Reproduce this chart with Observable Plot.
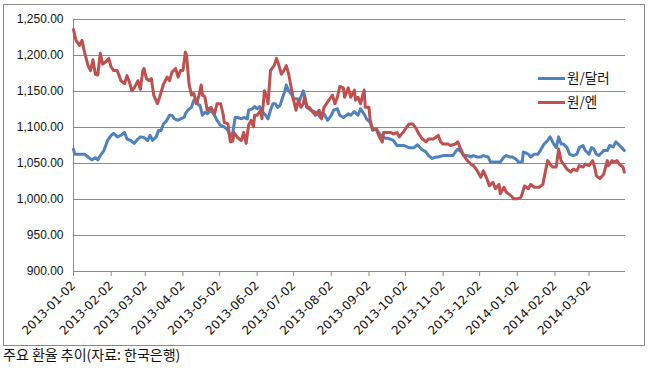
<!DOCTYPE html>
<html><head><meta charset="utf-8">
<script src="https://cdn.jsdelivr.net/npm/d3@7"></script>
<script src="https://cdn.jsdelivr.net/npm/@observablehq/plot@0.6"></script>
<style>
html,body{margin:0;padding:0;background:#fff;}
#wrap{position:relative;width:648px;height:370px;overflow:hidden;}
#chart{position:absolute;left:0;top:0;}
#border{position:absolute;left:3px;top:4px;width:642px;height:342px;box-sizing:border-box;border:1px solid #8c8c8c;pointer-events:none;}
.lg{position:absolute;font-family:"Noto Sans CJK KR",sans-serif;font-size:13.5px;line-height:1;color:#111;}
.sw{position:absolute;height:3px;}
#cap{position:absolute;left:3px;top:347px;font-family:"Noto Sans CJK KR",sans-serif;font-size:14px;line-height:1;color:#111;}
</style></head>
<body><div id="wrap">
<div id="chart"></div>
<div id="border"></div>
<div class="sw" style="left:538px;top:77px;width:27px;background:#4F81BD"></div>
<div class="lg" style="left:567px;top:71px">원/달러</div>
<div class="sw" style="left:538px;top:101px;width:27px;background:#C0504D"></div>
<div class="lg" style="left:567px;top:95px">원/엔</div>
<div id="cap">주요 환율 추이(자료: 한국은행)</div>
</div>
<script>
const seriesNames = ["원/달러", "원/엔"];
const seriesColors = ["#4F81BD", "#C0504D"];
const xTickLabels = ["2013-01-02","2013-02-02","2013-03-02","2013-04-02","2013-05-02","2013-06-02","2013-07-02","2013-08-02","2013-09-02","2013-10-02","2013-11-02","2013-12-02","2014-01-02","2014-02-02","2014-03-02"];
const yTicks = [900, 950, 1000, 1050, 1100, 1150, 1200, 1250];
const xDomain = ["2013-01-02", "2014-04-01"];

const usdDates = ["2013-01-02","2013-01-03","2013-01-07","2013-01-11","2013-01-14","2013-01-17","2013-01-20","2013-01-22","2013-01-24","2013-01-27","2013-01-30","2013-02-02","2013-02-04","2013-02-07","2013-02-10","2013-02-13","2013-02-15","2013-02-18","2013-02-21","2013-02-24","2013-02-26","2013-03-01","2013-03-04","2013-03-06","2013-03-08","2013-03-11","2013-03-13","2013-03-15","2013-03-17","2013-03-19","2013-03-22","2013-03-24","2013-03-26","2013-03-29","2013-03-31","2013-04-03","2013-04-04","2013-04-06","2013-04-09","2013-04-11","2013-04-13","2013-04-15","2013-04-16","2013-04-18","2013-04-20","2013-04-22","2013-04-25","2013-04-28","2013-04-30","2013-05-03","2013-05-06","2013-05-09","2013-05-11","2013-05-13","2013-05-15","2013-05-17","2013-05-20","2013-05-22","2013-05-25","2013-05-26","2013-05-29","2013-05-31","2013-06-02","2013-06-04","2013-06-07","2013-06-09","2013-06-11","2013-06-13","2013-06-15","2013-06-17","2013-06-19","2013-06-21","2013-06-23","2013-06-25","2013-06-26","2013-06-28","2013-06-30","2013-07-02","2013-07-05","2013-07-07","2013-07-10","2013-07-11","2013-07-13","2013-07-16","2013-07-19","2013-07-22","2013-07-24","2013-07-27","2013-07-30","2013-08-02","2013-08-04","2013-08-07","2013-08-09","2013-08-12","2013-08-16","2013-08-18","2013-08-21","2013-08-24","2013-08-26","2013-08-29","2013-08-31","2013-09-03","2013-09-05","2013-09-08","2013-09-10","2013-09-13","2013-09-16","2013-09-18","2013-09-22","2013-09-25","2013-09-28","2013-10-01","2013-10-05","2013-10-09","2013-10-12","2013-10-15","2013-10-19","2013-10-21","2013-10-24","2013-10-27","2013-10-29","2013-11-02","2013-11-04","2013-11-08","2013-11-10","2013-11-12","2013-11-14","2013-11-17","2013-11-19","2013-11-22","2013-11-25","2013-11-27","2013-11-30","2013-12-03","2013-12-05","2013-12-09","2013-12-11","2013-12-14","2013-12-17","2013-12-19","2013-12-22","2013-12-24","2013-12-27","2013-12-29","2014-01-01","2014-01-03","2014-01-06","2014-01-07","2014-01-11","2014-01-13","2014-01-16","2014-01-19","2014-01-21","2014-01-24","2014-01-27","2014-01-29","2014-02-01","2014-02-03","2014-02-05","2014-02-07","2014-02-09","2014-02-12","2014-02-14","2014-02-17","2014-02-20","2014-02-22","2014-02-25","2014-02-27","2014-03-02","2014-03-04","2014-03-06","2014-03-08","2014-03-10","2014-03-13","2014-03-14","2014-03-17","2014-03-19","2014-03-22","2014-03-24","2014-03-26","2014-03-30","2014-03-31"];
const usdValues = [1070,1063,1063,1063,1059,1055,1058,1055,1061,1068,1082,1089,1092,1087,1089,1093,1084,1082,1078,1084,1087,1086,1082,1089,1082,1087,1096,1096,1105,1108,1117,1117,1112,1110,1112,1114,1119,1124,1128,1138,1138,1131,1131,1117,1121,1119,1124,1117,1110,1103,1101,1096,1087,1093,1114,1114,1112,1114,1112,1124,1126,1129,1126,1129,1121,1117,1112,1124,1133,1133,1128,1131,1142,1151,1159,1151,1147,1140,1140,1138,1151,1145,1128,1124,1122,1119,1114,1119,1110,1117,1124,1126,1117,1114,1119,1117,1122,1117,1126,1119,1112,1107,1096,1098,1093,1087,1085,1085,1082,1075,1075,1075,1072,1072,1076,1070,1066,1061,1057,1059,1059,1061,1061,1061,1061,1066,1070,1066,1061,1061,1059,1061,1059,1059,1061,1059,1052,1052,1052,1052,1059,1061,1059,1059,1056,1052,1052,1066,1063,1059,1063,1063,1068,1077,1082,1087,1077,1072,1087,1077,1077,1072,1063,1061,1063,1072,1075,1068,1063,1072,1070,1063,1061,1066,1068,1068,1075,1073,1080,1077,1070,1068];

const jpyDates = ["2013-01-02","2013-01-04","2013-01-07","2013-01-09","2013-01-11","2013-01-14","2013-01-16","2013-01-18","2013-01-20","2013-01-22","2013-01-24","2013-01-26","2013-01-29","2013-01-31","2013-02-02","2013-02-04","2013-02-07","2013-02-10","2013-02-13","2013-02-15","2013-02-17","2013-02-19","2013-02-21","2013-02-24","2013-02-26","2013-02-28","2013-03-01","2013-03-03","2013-03-05","2013-03-07","2013-03-09","2013-03-12","2013-03-14","2013-03-17","2013-03-20","2013-03-22","2013-03-24","2013-03-27","2013-03-29","2013-03-31","2013-04-02","2013-04-04","2013-04-05","2013-04-07","2013-04-09","2013-04-11","2013-04-13","2013-04-15","2013-04-17","2013-04-18","2013-04-20","2013-04-22","2013-04-25","2013-04-28","2013-04-30","2013-05-03","2013-05-05","2013-05-06","2013-05-09","2013-05-11","2013-05-13","2013-05-14","2013-05-17","2013-05-20","2013-05-22","2013-05-24","2013-05-26","2013-05-28","2013-05-30","2013-05-31","2013-06-02","2013-06-05","2013-06-06","2013-06-08","2013-06-10","2013-06-11","2013-06-13","2013-06-16","2013-06-18","2013-06-20","2013-06-22","2013-06-24","2013-06-26","2013-06-28","2013-06-30","2013-07-02","2013-07-04","2013-07-06","2013-07-08","2013-07-10","2013-07-11","2013-07-13","2013-07-15","2013-07-18","2013-07-20","2013-07-23","2013-07-25","2013-07-27","2013-07-31","2013-08-03","2013-08-05","2013-08-07","2013-08-09","2013-08-12","2013-08-13","2013-08-16","2013-08-18","2013-08-21","2013-08-22","2013-08-24","2013-08-26","2013-08-29","2013-08-30","2013-09-02","2013-09-03","2013-09-05","2013-09-08","2013-09-10","2013-09-13","2013-09-14","2013-09-17","2013-09-20","2013-09-22","2013-09-25","2013-09-27","2013-09-30","2013-10-02","2013-10-05","2013-10-08","2013-10-11","2013-10-13","2013-10-16","2013-10-19","2013-10-21","2013-10-25","2013-10-29","2013-10-31","2013-11-02","2013-11-06","2013-11-08","2013-11-12","2013-11-14","2013-11-16","2013-11-19","2013-11-22","2013-11-25","2013-11-27","2013-11-30","2013-12-03","2013-12-05","2013-12-08","2013-12-10","2013-12-13","2013-12-15","2013-12-18","2013-12-19","2013-12-22","2013-12-24","2013-12-28","2013-12-30","2014-01-02","2014-01-05","2014-01-06","2014-01-08","2014-01-11","2014-01-13","2014-01-16","2014-01-20","2014-01-23","2014-01-25","2014-01-27","2014-01-29","2014-01-31","2014-02-03","2014-02-05","2014-02-07","2014-02-09","2014-02-12","2014-02-15","2014-02-17","2014-02-20","2014-02-22","2014-02-25","2014-02-27","2014-03-02","2014-03-05","2014-03-07","2014-03-08","2014-03-11","2014-03-14","2014-03-17","2014-03-18","2014-03-21","2014-03-22","2014-03-25","2014-03-27","2014-03-30","2014-03-31"];
const jpyValues = [1236,1221,1214,1221,1205,1186,1179,1194,1174,1173,1203,1188,1192,1196,1184,1179,1179,1165,1161,1172,1163,1151,1155,1165,1153,1179,1182,1168,1165,1168,1145,1133,1143,1160,1170,1165,1177,1182,1170,1179,1179,1205,1200,1161,1145,1147,1133,1143,1159,1145,1143,1124,1128,1119,1133,1133,1119,1107,1105,1080,1081,1093,1086,1082,1093,1078,1103,1110,1101,1117,1117,1124,1112,1151,1142,1133,1179,1186,1196,1186,1174,1179,1186,1174,1156,1138,1124,1138,1128,1133,1142,1128,1128,1121,1117,1124,1112,1128,1138,1145,1133,1142,1157,1155,1142,1155,1142,1152,1138,1142,1133,1152,1128,1128,1110,1098,1098,1089,1080,1093,1093,1093,1091,1093,1087,1093,1098,1105,1105,1098,1091,1084,1080,1084,1084,1089,1080,1077,1077,1075,1077,1080,1072,1061,1054,1049,1047,1040,1031,1040,1029,1019,1024,1015,1021,1008,1017,1010,1005,1001,1001,1003,1008,1019,1015,1021,1017,1017,1021,1038,1054,1049,1045,1045,1070,1054,1049,1042,1038,1042,1040,1047,1045,1049,1047,1054,1042,1033,1029,1035,1054,1047,1054,1052,1054,1049,1045,1038];

const parse = d3.utcParse("%Y-%m-%d");
const rows = [];
usdDates.forEach((d, i) => rows.push({date: parse(d), value: usdValues[i], series: seriesNames[0]}));
jpyDates.forEach((d, i) => rows.push({date: parse(d), value: jpyValues[i], series: seriesNames[1]}));
const xTicks = xTickLabels.map(parse);

const plot = Plot.plot({
  width: 648,
  height: 348,
  marginLeft: 73,
  marginRight: 23,
  marginTop: 19,
  marginBottom: 77,
  style: {fontFamily: "Liberation Sans, Arial, sans-serif", fontSize: "12px", color: "#111", background: "transparent"},
  x: {type: "utc", domain: xDomain.map(parse)},
  y: {domain: [900, 1250]},
  color: {domain: seriesNames, range: seriesColors},
  marks: [
    Plot.gridY(yTicks, {stroke: "#8c8c8c", strokeOpacity: 1, strokeWidth: 1}),
    Plot.ruleX([parse(xDomain[0])], {y1: 900, y2: 1250, stroke: "#8c8c8c", strokeWidth: 1}),
    Plot.axisY(yTicks, {tickSize: 0, tickPadding: 10, tickFormat: d3.format(",.2f"), label: null, fontSize: 12}),
    Plot.axisX(xTicks, {tickSize: 5, tickPadding: 7, tickRotate: -45, tickFormat: d3.utcFormat("%Y-%m-%d"), stroke: "#8c8c8c", label: null, fontSize: 12, fontFamily: "DejaVu Sans, sans-serif"}),
    Plot.lineY(rows, {x: "date", y: "value", z: "series", stroke: "series", strokeWidth: 3, strokeLinejoin: "round", strokeLinecap: "round"})
  ]
});
document.getElementById("chart").appendChild(plot);
</script>
</body></html>
